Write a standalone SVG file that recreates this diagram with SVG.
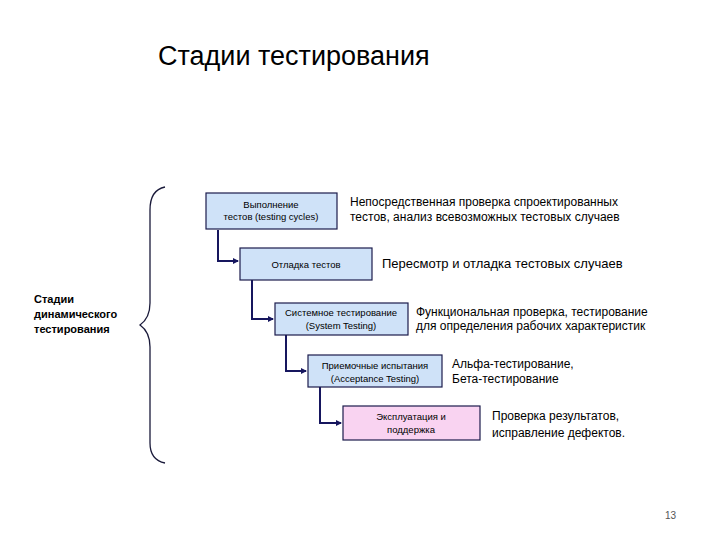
<svg xmlns="http://www.w3.org/2000/svg" width="720" height="540" viewBox="0 0 720 540">
<style>
text{font-family:"Liberation Sans",Arial,sans-serif;fill:#000}
.title{font-size:27px}
.box{fill:#cfe2f8;stroke:#1c1c4c;stroke-width:1.2}
.pink{fill:#f9d3f1}
.bt{font-size:9.5px;text-anchor:middle}
.desc{font-size:12px}
.desc2{font-size:13px}
.side{font-size:11px;font-weight:bold}
.conn{fill:none;stroke:#16165e;stroke-width:2}
.brace{fill:none;stroke:#1a1a3a;stroke-width:1.3}
</style>
<defs>
<marker id="arr" markerWidth="6" markerHeight="6" refX="5" refY="3" orient="auto" markerUnits="userSpaceOnUse">
<path d="M0,0 L6,3 L0,6 Z" fill="#16165e"/>
</marker>
</defs>
<rect width="720" height="540" fill="#fff"/>
<text class="title" x="158" y="65">Стадии тестирования</text>

<g id="brace">
<path class="brace" d="M165,187 Q150,190 150,210 L150,303 Q150,318 140,325 Q150,332 150,347 L150,443 Q150,460 165,463"/>
</g>
<g id="side-label">
<text class="side" x="34" y="303">Стадии</text>
<text class="side" x="34" y="318">динамического</text>
<text class="side" x="34" y="333">тестирования</text>
</g>

<g id="connectors">
<path class="conn" d="M218,230 L218,261 L238,261" marker-end="url(#arr)"/>
<path class="conn" d="M252,280 L252,319 L273,319" marker-end="url(#arr)"/>
<path class="conn" d="M286,335 L286,371 L306,371" marker-end="url(#arr)"/>
<path class="conn" d="M320,387 L320,423 L341,423" marker-end="url(#arr)"/>
</g>

<g id="node1">
<rect class="box" x="206" y="193" width="131" height="36"/>
<text class="bt" x="271" y="208">Выполнение</text>
<text class="bt" x="271" y="220">тестов (testing cycles)</text>
</g>
<g id="node2">
<rect class="box" x="240" y="248" width="132" height="32"/>
<text class="bt" x="306" y="268">Отладка тестов</text>
</g>
<g id="node3">
<rect class="box" x="275" y="303" width="133" height="32"/>
<text class="bt" x="341" y="316">Системное тестирование</text>
<text class="bt" x="341" y="329">(System Testing)</text>
</g>
<g id="node4">
<rect class="box" x="308" y="355" width="134" height="32"/>
<text class="bt" x="375" y="369">Приемочные испытания</text>
<text class="bt" x="375" y="382">(Acceptance Testing)</text>
</g>
<g id="node5">
<rect class="box pink" x="343" y="406" width="137" height="34"/>
<text class="bt" x="411" y="420">Эксплуатация и</text>
<text class="bt" x="411" y="433">поддержка</text>
</g>

<g id="descriptions">
<text class="desc" x="350" y="206">Непосредственная проверка спроектированных</text>
<text class="desc" x="350" y="221">тестов, анализ всевозможных тестовых случаев</text>
<text class="desc2" x="382" y="268">Пересмотр и отладка тестовых случаев</text>
<text class="desc" x="416" y="316">Функциональная проверка, тестирование</text>
<text class="desc" x="416" y="330">для определения рабочих характеристик</text>
<text class="desc" x="452" y="368">Альфа-тестирование,</text>
<text class="desc" x="452" y="383">Бета-тестирование</text>
<text class="desc" x="492" y="420">Проверка результатов,</text>
<text class="desc" x="492" y="437">исправление дефектов.</text>
</g>
<text x="665" y="519" style="font-size:10px;fill:#555">13</text>
</svg>
